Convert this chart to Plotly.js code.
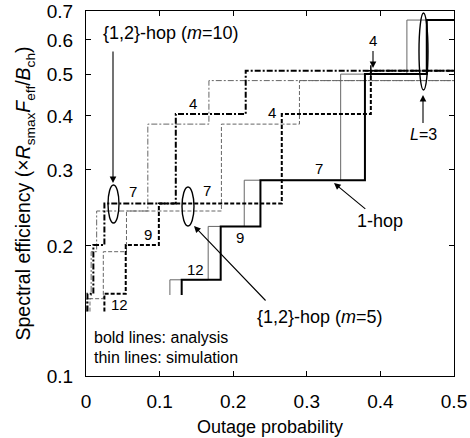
<!DOCTYPE html>
<html>
<head>
<meta charset="utf-8">
<script src="https://cdn.plot.ly/plotly-3.0.1.min.js"></script>
<style>html,body{margin:0;padding:0;background:#fff;}#chart{width:470px;height:438px;}</style>
</head>
<body>
<div id="chart"></div>
<script>
// ---- data ----
const Lvalues = [12, 9, 7, 4, 3];
// spectral efficiency level for each L
const eff1hop = [0.167, 0.222, 0.284, 0.500, 0.667];
const eff12hopAna = [0.155, 0.201, 0.251, 0.404, 0.509];
const eff12hopSim = [0.151, 0.194, 0.241, 0.383, 0.483];
// outage probability at which each L starts
const out1hopAna = [0.130, 0.183, 0.237, 0.379, 0.463];
const out1hopSim = [0.114, 0.166, 0.215, 0.346, 0.436];
const outM10Ana = [0.002, 0.010, 0.025, 0.122, 0.217];
const outM10Sim = [0.001, 0.007, 0.0145, 0.084, 0.167];
const outM5Ana = [0.025, 0.054, 0.099, 0.266, 0.387];
const outM5Sim = [0.0054, 0.0235, 0.055, 0.184, 0.290];
// level where each staircase's first drawn vertical begins
const start1hop = 0.154;
const start12hop = 0.141;
const xMax = 0.5;
const xTicks = [0, 0.1, 0.2, 0.3, 0.4, 0.5];
const xTickText = ['0', '0.1', '0.2', '0.3', '0.4', '0.5'];
const yTicks = [0.1, 0.2, 0.3, 0.4, 0.5, 0.6, 0.7];
const yTickText = ['0.1', '0.2', '0.3', '0.4', '0.5', '0.6', '0.7'];

function stair(outs, effs, start) {
  const x = [outs[0]], y = [start];
  for (let i = 0; i < outs.length; i++) { x.push(outs[i]); y.push(effs[i]); }
  x.push(xMax); y.push(effs[effs.length - 1]);
  return {x, y};
}
function trace(outs, effs, start, bold, dash) {
  const s = stair(outs, effs, start);
  return {
    x: s.x, y: s.y, type: 'scatter', mode: 'lines',
    line: {shape: 'hv', color: bold ? '#000' : '#666', width: bold ? 2 : 1, dash: dash},
    hoverinfo: 'skip', showlegend: false
  };
}
const DASH = '4px,2px';
const DASHDOT = '6px,2px,2px,2px';
const data = [
  trace(out1hopSim, eff1hop, start1hop, false, 'solid'),
  trace(outM10Sim, eff12hopSim, start12hop, false, DASHDOT),
  trace(outM5Sim, eff12hopSim, start12hop, false, DASH),
  trace(out1hopAna, eff1hop, start1hop, true, 'solid'),
  trace(outM10Ana, eff12hopAna, start12hop, true, DASHDOT),
  trace(outM5Ana, eff12hopAna, start12hop, true, DASH),
  {x: [outM5Ana[4]], y: [eff12hopAna[4]], type: 'scatter', mode: 'markers',
   marker: {symbol: 'cross-thin', size: 8, line: {width: 1.5, color: '#000'}},
   hoverinfo: 'skip', showlegend: false}
];

// ---- decorations (pixel positions converted to paper coordinates) ----
const L0 = 86, R0 = 454, T0 = 11, B0 = 376;
const px = v => (v - L0) / (R0 - L0);
const py = v => (B0 - v) / (B0 - T0);
const FONT = 'Liberation Sans, Arial, sans-serif';
function label(text, x, y, size, align) {
  return {text: text, xref: 'paper', yref: 'paper', x: px(x), y: py(y),
    xanchor: align || 'center', yanchor: 'middle', showarrow: false,
    font: {family: FONT, size: size || 15, color: '#000'}};
}
// text centred at (tx,ty) with an arrow pointing at (hx,hy)
function labelArrow(text, tx, ty, hx, hy, size) {
  return {text: text, xref: 'paper', yref: 'paper', x: px(hx), y: py(hy),
    ax: tx - hx, ay: ty - hy, showarrow: true, arrowhead: 2, arrowsize: 1.2,
    arrowwidth: 1.1, arrowcolor: '#000', standoff: 0, startstandoff: 1,
    font: {family: FONT, size: size || 15, color: '#000'}};
}
function arrow(x1, y1, x2, y2) {
  return {text: '', xref: 'paper', yref: 'paper', x: px(x2), y: py(y2),
    ax: x1 - x2, ay: y1 - y2, showarrow: true, arrowhead: 2, arrowsize: 1.2,
    arrowwidth: 1.1, arrowcolor: '#000'};
}
function ellipse(x0, y0, x1, y1) {
  return {type: 'circle', xref: 'paper', yref: 'paper', x0: px(x0), x1: px(x1),
    y0: py(y1), y1: py(y0), line: {color: '#000', width: 1.4}};
}
const annotations = [
  label('{1,2}-hop (<i>m</i>=10)', 171, 33, 18),
  arrow(113, 50, 113, 183),
  label('4', 193, 104), label('4', 272, 113),
  labelArrow('4', 373, 40, 373, 68),
  label('7', 133, 191), label('7', 207, 190), label('7', 319, 168),
  label('9', 148, 235), label('9', 240, 237),
  label('12', 119, 304), label('12', 195, 269),
  labelArrow('<i>L</i>=3', 423, 134, 423, 95, 16),
  labelArrow('1-hop', 380, 221, 334, 183, 18),
  label('{1,2}-hop (<i>m</i>=5)', 320, 317, 18),
  arrow(267, 302, 194, 226),
  label('bold lines: analysis', 92, 337, 16, 'left'),
  label('thin lines: simulation', 92, 357, 16, 'left')
];
const shapes = [
  ellipse(108, 185, 119, 223),
  ellipse(182, 187, 194, 226),
  ellipse(419, 13, 428, 90)
];

const layout = {
  width: 470, height: 438,
  margin: {l: L0, r: 470 - R0, t: T0, b: 438 - B0},
  paper_bgcolor: '#fff', plot_bgcolor: '#fff',
  font: {family: FONT, size: 18, color: '#000'},
  xaxis: {
    range: [0, xMax], tickvals: xTicks, ticktext: xTickText,
    ticks: 'inside', ticklen: 5, tickcolor: '#000', mirror: 'ticks',
    showline: true, linecolor: '#000', linewidth: 1, showgrid: false, zeroline: false,
    tickfont: {size: 19}, ticklabelstandoff: 8,
    title: {text: 'Outage probability', font: {size: 18}, standoff: 9}
  },
  yaxis: {
    type: 'log', range: [Math.log10(0.1), Math.log10(0.7)],
    tickvals: yTicks, ticktext: yTickText,
    ticks: 'inside', ticklen: 5, tickcolor: '#000', mirror: 'ticks',
    showline: true, linecolor: '#000', linewidth: 1, showgrid: false, zeroline: false,
    tickfont: {size: 19}, ticklabelstandoff: 8,
    title: {text: 'Spectral efficiency (×<i>R</i><sub>smax</sub><i>F</i><sub>eff</sub>/<i>B</i><sub>ch</sub>)', font: {size: 19.5}, standoff: 10}
  },
  annotations: annotations,
  shapes: shapes
};
Plotly.newPlot('chart', data, layout, {staticPlot: true, displayModeBar: false});
</script>
</body>
</html>
